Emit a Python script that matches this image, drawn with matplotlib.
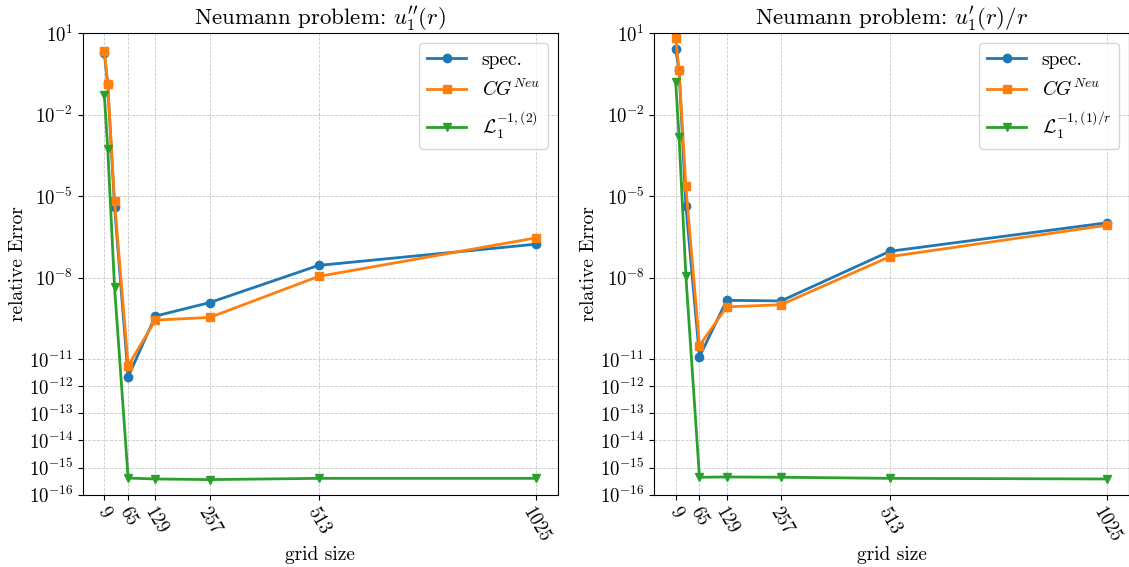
import matplotlib
matplotlib.use('Agg')  # sin interfaz gráfica
import matplotlib.pyplot as plt

# Tipografía parecida a LaTeX (Computer Modern)
plt.rcParams['font.family'] = 'serif'
plt.rcParams['font.serif'] = ['cmr10', 'DejaVu Serif']
plt.rcParams['mathtext.fontset'] = 'cm'
plt.rcParams['axes.formatter.use_mathtext'] = True

# Datos
grid_size = [9, 17, 33, 65, 129, 257, 513, 1025]
xtick_vals = [9, 65, 129, 257, 513, 1025]
ytick_vals = [1e1, 1e-2, 1e-5, 1e-8, 1e-11, 1e-12, 1e-13, 1e-14, 1e-15, 1e-16]

# Panel izquierdo: u_1''(r)
spec_dd = [1.8, 0.13, 4.1e-6, 2.2e-12, 3.8e-10, 1.2e-9, 2.8e-8, 1.7e-7]
cg_dd = [2.2, 0.13, 6.4e-6, 5.6e-12, 2.7e-10, 3.4e-10, 1.1e-8, 2.9e-7]
lop_dd = [0.052, 5.5e-4, 4.4e-9, 4.1e-16, 3.8e-16, 3.6e-16, 4.0e-16, 4.0e-16]

# Panel derecho: u_1'(r)/r
spec_dr = [2.6, 0.44, 4.5e-6, 1.2e-11, 1.45e-9, 1.38e-9, 9.3e-8, 1.05e-6]
cg_dr = [6.6, 0.44, 2.3e-5, 3.1e-11, 8.3e-10, 1.0e-9, 5.9e-8, 8.5e-7]
lop_dr = [0.165, 1.5e-3, 1.17e-8, 4.4e-16, 4.5e-16, 4.4e-16, 4.0e-16, 3.8e-16]

panels = [
    ("Neumann problem: $u_1''(r)$", spec_dd, cg_dd, lop_dd, r'$\mathcal{L}_1^{-1,(2)}$'),
    ("Neumann problem: $u_1'(r)/r$", spec_dr, cg_dr, lop_dr, r'$\mathcal{L}_1^{-1,(1)/r}$'),
]

fig, axes = plt.subplots(1, 2, figsize=(11.29, 5.67), dpi=100)
fig.subplots_adjust(left=0.0733, right=1.0, bottom=0.1275, top=0.9413, wspace=0.203)

for ax, (title, spec, cg, lop, lop_label) in zip(axes, panels):
    ax.plot(grid_size, spec, 'o-', color='tab:blue', linewidth=2, markersize=6, label='spec.')
    ax.plot(grid_size, cg, 's-', color='tab:orange', linewidth=2, markersize=6, label='$CG^{Neu}$')
    ax.plot(grid_size, lop, 'v-', color='tab:green', linewidth=2, markersize=6, label=lop_label)
    ax.set_yscale('log')
    ax.set_ylim(1e-16, 1e1)
    ax.set_yticks(ytick_vals)
    ax.minorticks_off()
    ax.set_xticks(xtick_vals)
    ax.set_xticklabels([str(v) for v in xtick_vals], rotation=-60)
    ax.tick_params(labelsize=13.5)
    ax.set_xlabel('grid size', fontsize=14, labelpad=0)
    ax.set_ylabel('relative Error', fontsize=14, labelpad=1)
    ax.set_title(title, fontsize=16.5)
    ax.grid(True, linestyle='--', linewidth=0.6, color='#bbbbbb', alpha=0.8)
    ax.legend(loc='upper right', fontsize=14)

plt.savefig('out.png', dpi=100)
plt.close()
